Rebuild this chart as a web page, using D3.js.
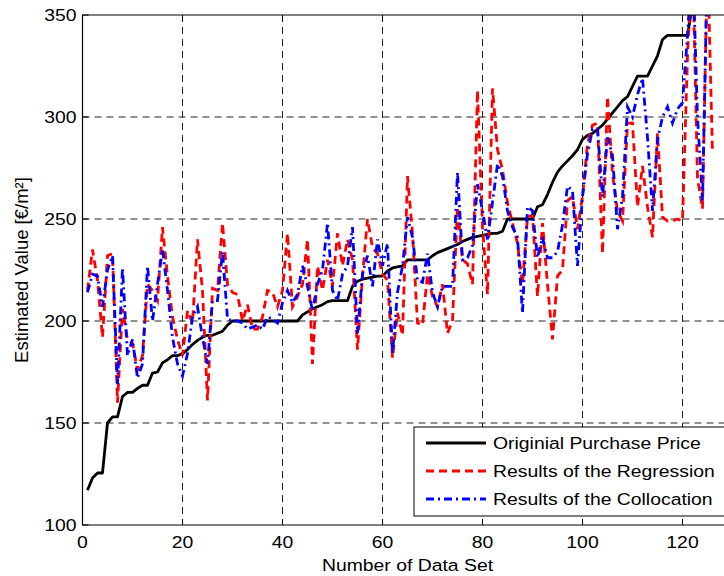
<!DOCTYPE html>
<html>
<head>
<meta charset="utf-8">
<script src="https://cdn.jsdelivr.net/npm/d3@7"></script>
<style>
  body { margin: 0; background: #fff; }
  svg { display: block; font-family: "Liberation Sans", Arial, sans-serif; }
</style>
</head>
<body>
<div id="chart"></div>
<script>
// Original purchase price (sorted), data sets 1..126
const purchase = [117, 123, 125.5, 125.5, 150, 153, 153, 163, 165, 165,
  167, 168.5, 168.5, 174.5, 175, 179.5, 181, 183, 183, 184,
  186, 188.5, 190.5, 192, 193, 193, 194, 195, 198, 200,
  200, 200, 200, 200, 200, 200, 200, 200, 200, 200,
  200, 200, 200, 203, 204.5, 206, 207, 208, 209.5, 210,
  210, 210, 210, 217, 219.5, 220.5, 221, 221.5, 222, 222,
  224.5, 226, 226.5, 227, 230, 230, 230, 230, 230, 232,
  233.5, 234.5, 235.5, 236.5, 237.5, 239, 240, 241, 241.5, 242,
  242.5, 243, 243, 244, 250, 250, 250, 250, 250, 250,
  256, 257, 262, 268, 273, 276, 278.5, 281, 284, 289,
  291, 292, 294, 296, 299, 302, 305, 308, 310, 315,
  320, 320, 320, 325, 330, 338, 340, 340, 340, 340,
  340, 355, 365, 375, 385, 395];

const regression = [215, 235, 220, 192, 232, 233, 160, 206, 191, 189,
  176, 183, 218, 215, 210, 246, 222, 202, 191, 183,
  205, 199, 240, 215, 161, 216, 215, 248, 218, 214,
  213, 200, 208, 196, 196, 202, 215, 214, 207, 215,
  243, 207, 212, 218, 240, 179, 227, 215, 230, 217,
  243, 227, 240, 230, 186, 222, 250, 236, 233, 223,
  220, 182, 204, 193, 271, 243, 199, 198, 223, 212,
  207, 218, 194, 200, 256, 230, 228, 218, 313, 246,
  213, 314, 284, 274, 258, 248, 238, 218, 251, 252,
  212, 248, 218, 191, 222, 225, 259, 261, 245, 261,
  287, 296, 297, 233, 310, 272, 254, 249, 297, 297,
  256, 276, 256, 241, 292, 251, 249, 249, 250, 249,
  330, 380, 270, 255, 380, 282];

const collocation = [214, 223, 222, 207, 225, 232, 169, 226, 183, 191,
  172, 179, 227, 200, 218, 235, 215, 192, 179, 173,
  184, 202, 207, 192, 179, 210, 210, 234, 201, 200,
  200, 199, 196, 197, 198, 196, 202, 201, 199, 209,
  215, 209, 213, 227, 217, 205, 218, 225, 248, 215,
  210, 223, 227, 246, 194, 223, 232, 217, 240, 227,
  238, 184, 214, 227, 251, 241, 220, 219, 233, 214,
  207, 217, 217, 217, 273, 230, 231, 237, 267, 254,
  240, 258, 277, 271, 254, 246, 241, 204, 256, 254,
  231, 241, 231, 231, 234, 247, 266, 264, 227, 261,
  282, 294, 294, 261, 290, 281, 245, 261, 305, 300,
  311, 319, 290, 254, 289, 300, 305, 297, 304, 307,
  340, 380, 300, 259, 380, 370];

const xTicks = [0, 20, 40, 60, 80, 100, 120];
const yTicks = [100, 150, 200, 250, 300, 350];
const legendLabels = ["Originial Purchase Price", "Results of the Regression", "Results of the Collocation"];

const W = 724, H = 576;
const mLeft = 82.5, mTop = 15, mRight = 732.5, mBottom = 525;
const stretch = 1.14; // text in the picture is a bit wider than Arial

const svg = d3.select("#chart").append("svg")
    .attr("width", W)
    .attr("height", H);

svg.append("rect").attr("width", W).attr("height", H).attr("fill", "#fff");

const x = d3.scaleLinear().domain([0, 130]).range([mLeft, mRight]);
const y = d3.scaleLinear().domain([100, 350]).range([mBottom, mTop]);

// grid
svg.append("g").selectAll("line")
    .data(xTicks.filter(d => d > 0))
    .join("line")
    .attr("x1", d => x(d)).attr("x2", d => x(d))
    .attr("y1", mTop).attr("y2", mBottom)
    .attr("stroke", "#222").attr("stroke-width", 1)
    .attr("stroke-dasharray", "7,5");

svg.append("g").selectAll("line")
    .data(yTicks.filter(d => d > 100 && d < 350))
    .join("line")
    .attr("x1", mLeft).attr("x2", mRight)
    .attr("y1", d => y(d)).attr("y2", d => y(d))
    .attr("stroke", "#222").attr("stroke-width", 1)
    .attr("stroke-dasharray", "7,5");

// clip
svg.append("clipPath").attr("id", "plotclip")
  .append("rect").attr("x", mLeft).attr("y", mTop)
  .attr("width", mRight - mLeft).attr("height", mBottom - mTop);

const line = d3.line()
    .x((d, i) => x(i + 1))
    .y(d => y(d));

const plot = svg.append("g").attr("clip-path", "url(#plotclip)");

plot.append("path").datum(purchase)
    .attr("d", line).attr("fill", "none")
    .attr("stroke", "#000").attr("stroke-width", 2.8)
    .attr("stroke-linejoin", "round");

plot.append("path").datum(regression)
    .attr("d", line).attr("fill", "none")
    .attr("stroke", "#ff0000").attr("stroke-width", 2.8)
    .attr("stroke-dasharray", "8,5");

plot.append("path").datum(collocation)
    .attr("d", line).attr("fill", "none")
    .attr("stroke", "#0000ff").attr("stroke-width", 2.8)
    .attr("stroke-dasharray", "8,4,2,4");

// axes box
svg.append("path")
    .attr("d", `M${mRight},${mTop}H${mLeft}V${mBottom}H${mRight}`)
    .attr("fill", "none").attr("stroke", "#000").attr("stroke-width", 1.2);

// ticks (inward)
svg.append("g").selectAll("line")
    .data(xTicks)
    .join("line")
    .attr("x1", d => x(d)).attr("x2", d => x(d))
    .attr("y1", mBottom).attr("y2", mBottom - 6)
    .attr("stroke", "#000");
svg.append("g").selectAll("line")
    .data(xTicks)
    .join("line")
    .attr("x1", d => x(d)).attr("x2", d => x(d))
    .attr("y1", mTop).attr("y2", mTop + 6)
    .attr("stroke", "#000");
svg.append("g").selectAll("line")
    .data(yTicks)
    .join("line")
    .attr("x1", mLeft).attr("x2", mLeft + 6)
    .attr("y1", d => y(d)).attr("y2", d => y(d))
    .attr("stroke", "#000");

// tick labels
svg.append("g").selectAll("text")
    .data(xTicks)
    .join("text")
    .attr("transform", d => `translate(${x(d)},${mBottom + 23}) scale(${stretch},1)`)
    .attr("text-anchor", "middle")
    .attr("font-size", 17)
    .text(d => d);

svg.append("g").selectAll("text")
    .data(yTicks)
    .join("text")
    .attr("transform", d => `translate(${mLeft - 6},${y(d) + 6}) scale(${stretch},1)`)
    .attr("text-anchor", "end")
    .attr("font-size", 17)
    .text(d => d);

// axis titles
svg.append("text")
    .attr("transform", `translate(${(mLeft + mRight) / 2},571) scale(${stretch},1)`)
    .attr("text-anchor", "middle")
    .attr("font-size", 17)
    .text("Number of Data Set");

svg.append("text")
    .attr("transform", `translate(28,${(mTop + mBottom) / 2}) rotate(-90)`)
    .attr("text-anchor", "middle")
    .attr("font-size", 18.5)
    .text("Estimated Value [€/m²]");

// legend
const legend = svg.append("g");
legend.append("rect")
    .attr("x", 414).attr("y", 427)
    .attr("width", 330).attr("height", 89)
    .attr("fill", "#fff").attr("stroke", "#000").attr("stroke-width", 1);

const legendStyles = [
  { stroke: "#000", dash: null },
  { stroke: "#ff0000", dash: "8,5" },
  { stroke: "#0000ff", dash: "8,4,2,4" }
];

legendLabels.forEach((label, i) => {
  const ly = 443 + i * 28;
  legend.append("line")
    .attr("x1", 426).attr("x2", 486)
    .attr("y1", ly).attr("y2", ly)
    .attr("stroke", legendStyles[i].stroke)
    .attr("stroke-width", 2.8)
    .attr("stroke-dasharray", legendStyles[i].dash);
  legend.append("text")
    .attr("transform", `translate(493,${ly + 6}) scale(${stretch},1)`)
    .attr("font-size", 17)
    .text(label);
});
</script>
</body>
</html>
